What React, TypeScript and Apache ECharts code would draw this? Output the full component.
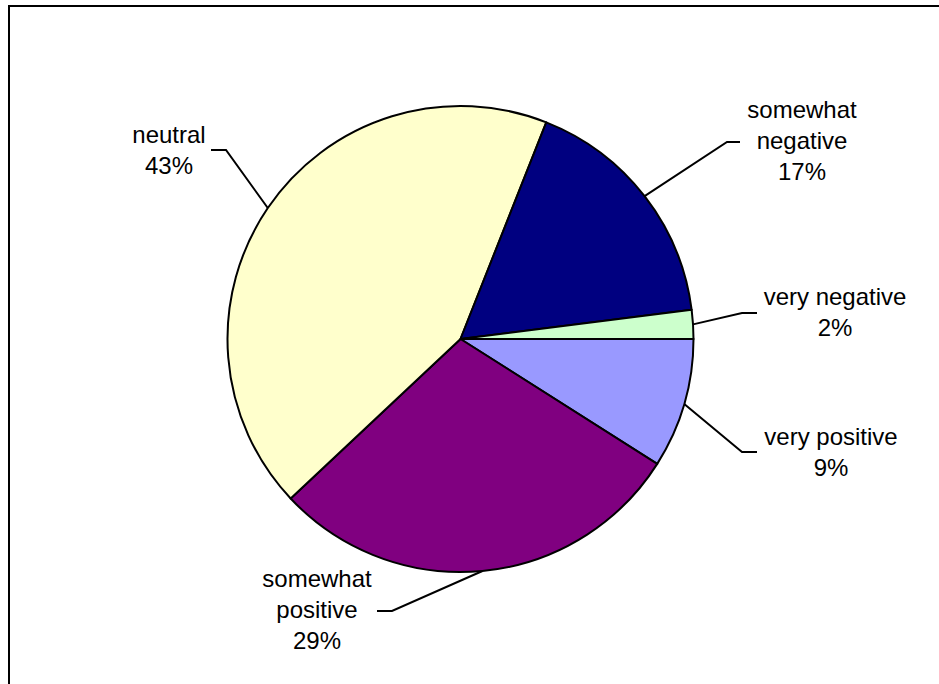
import React, { useEffect, useRef } from "react";
import * as echarts from "echarts";

// Slices, clockwise from 3 o'clock
const categories = ["very positive", "somewhat positive", "neutral", "somewhat negative", "very negative"];
const values = [9, 29, 43, 17, 2];
const colors = ["#9999FF", "#800080", "#FFFFCC", "#000080", "#CCFFCC"];

// Label placement (label centre, leader-line end at label, leader-line elbow)
const labelCenters = [[831, 452], [317, 609], [169, 150], [802, 140], [835, 312]];
const lineEnds = [[757, 452], [377, 611], [211, 150], [740, 142], [757, 313]];
const lineElbows = [[742, 452], [392, 611], [226, 150], [727, 142], [742, 313]];

export default function App() {
  const ref = useRef<HTMLDivElement>(null);
  useEffect(() => {
    if (!ref.current) return;
    const chart = echarts.init(ref.current, undefined, { renderer: "svg" });
    chart.setOption({
      animation: false,
      backgroundColor: "#ffffff",
      graphic: [
        {
          type: "rect",
          shape: { x: 9, y: 6, width: 1000, height: 1000 },
          style: { fill: "none", stroke: "#000", lineWidth: 2 },
          silent: true,
        },
      ],
      series: [
        {
          type: "pie",
          center: [460.5, 339],
          radius: 233,
          startAngle: 0,
          clockwise: true,
          data: categories.map((name, i) => ({
            name,
            value: values[i],
            itemStyle: { color: colors[i] },
          })),
          itemStyle: { borderColor: "#000", borderWidth: 2 },
          emphasis: { disabled: true },
          label: {
            show: true,
            position: "outside",
            color: "#000",
            fontFamily: "Liberation Sans, Arial, sans-serif",
            fontSize: 24,
            lineHeight: 31,
            align: "center",
            formatter: (p: any) =>
              p.name.replace("somewhat ", "somewhat\n") + "\n" + p.value + "%",
          },
          labelLine: {
            show: true,
            lineStyle: { color: "#000", width: 2 },
          },
          labelLayout: (params: any) => {
            const i = params.dataIndex;
            const pts = params.labelLinePoints;
            const start = pts && pts[0] ? pts[0] : lineElbows[i];
            return {
              x: labelCenters[i][0],
              y: labelCenters[i][1],
              align: "center",
              verticalAlign: "middle",
              labelLinePoints: [
                [start[0], start[1]],
                [lineElbows[i][0], lineElbows[i][1]],
                [lineEnds[i][0], lineEnds[i][1]],
              ],
            };
          },
        },
      ],
    });
    return () => chart.dispose();
  }, []);
  return (
    <div
      ref={ref}
      style={{ position: "fixed", left: 0, top: 0, width: 939, height: 684 }}
    />
  );
}
